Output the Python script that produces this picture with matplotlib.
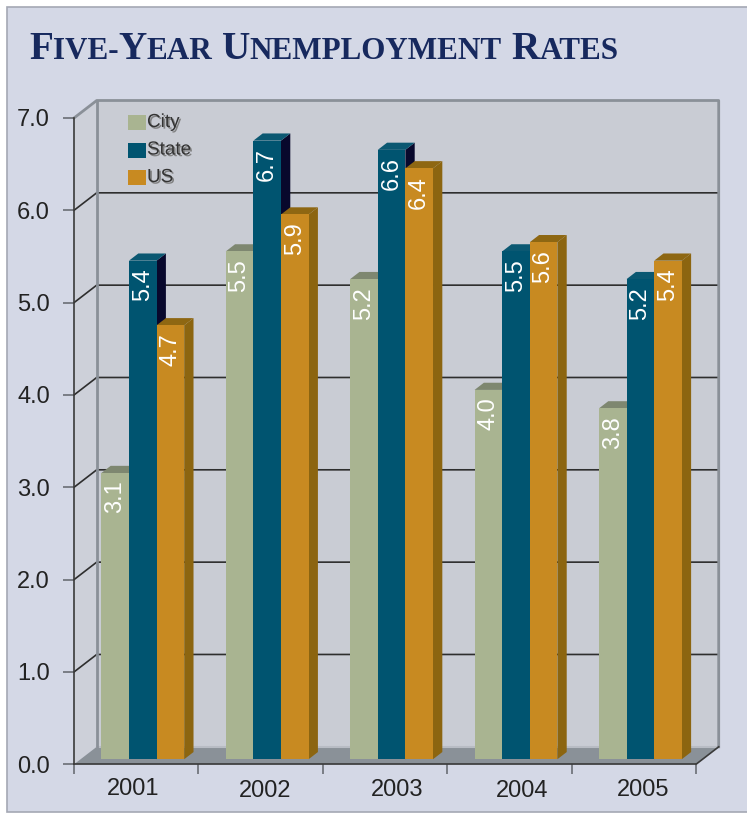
import matplotlib
matplotlib.use('Agg')
import matplotlib.pyplot as plt
import matplotlib.patheffects as pe
from matplotlib.patches import Polygon, Rectangle

# data
years = ['2001', '2002', '2003', '2004', '2005']
city = [3.1, 5.5, 5.2, 4.0, 3.8]
state = [5.4, 6.7, 6.6, 5.5, 5.2]
us = [4.7, 5.9, 6.4, 5.6, 5.4]
series_names = ['City', 'State', 'US']
yticks = [0, 1, 2, 3, 4, 5, 6, 7]

# colours : front / top / side face of each series
front_cols = ['#A9B491', '#005470', '#C88A21']
top_cols = ['#7E8770', '#0B5872', '#8E6712']
side_cols = ['#7E8770', '#08082C', '#8C6510']

NARROW = ['Liberation Sans Narrow', 'Liberation Sans', 'DejaVu Sans']
plt.rcParams['font.family'] = NARROW

W, H = 747, 814
fig = plt.figure(figsize=(W / 100, H / 100), dpi=100, facecolor='white')


def fx(px):
    return px / W


def fy(py):
    return 1 - py / H


# panel behind everything
fig.add_artist(Rectangle((fx(7), fy(812)), (760 - 7) / W, (812 - 7) / H,
                         transform=fig.transFigure, facecolor='#D4D8E6',
                         edgecolor='#A4A8B4', linewidth=1.2, zorder=-5))

# front plane of the box = the axes
ax = fig.add_axes([fx(74), fy(764.3), 622 / W, (764.3 - 118) / H])
ax.set_xlim(0, 5)
ax.set_ylim(0, 7)
ax.patch.set_visible(False)

ncat = len(years)
ymax = yticks[-1]
ddx = 22.7 / 124.4     # depth of the box in data units
ddy = 17.5 / 92.33
f0 = 0.29              # depth where the bar front sits
bd = 0.41              # bar depth as fraction of box depth
bw = 0.222             # bar width

# walls & floor
ax.add_patch(Polygon([(0, 0), (ddx, ddy), (ddx, ymax + ddy), (0, ymax)],
                     closed=True, facecolor='#CDD0D9', edgecolor='none',
                     clip_on=False, zorder=0.5))
ax.add_patch(Polygon([(ddx, ddy), (ncat + ddx, ddy), (ncat + ddx, ymax + ddy), (ddx, ymax + ddy)],
                     closed=True, facecolor='#C9CCD4', edgecolor='none',
                     clip_on=False, zorder=0.5))
ax.add_patch(Polygon([(0, 0), (ncat, 0), (ncat + ddx, ddy), (ddx, ddy)],
                     closed=True, facecolor='#8A9198', edgecolor='none',
                     clip_on=False, zorder=0.6))

# gridlines on the back & left wall
for v in yticks[1:-1]:
    ax.plot([0, ddx, ncat + ddx], [v, v + ddy, v + ddy], color='#2E2E2E',
            lw=1.2, clip_on=False, zorder=0.8)

# wall edges
edge = dict(color='#8A9098', lw=2, clip_on=False, zorder=0.9)
ax.plot([0, ddx, ncat + ddx, ncat + ddx], [ymax, ymax + ddy, ymax + ddy, ddy], **edge)
ax.plot([ddx, ddx], [ddy, ymax + ddy], **edge)
ax.plot([ddx, ncat + ddx], [ddy, ddy], color='#B8BCC4', lw=1.5, clip_on=False, zorder=0.7)
ax.plot([ncat, ncat + ddx], [0, ddy], color='#3A3A3A', lw=1.2, clip_on=False, zorder=0.9)

# bars
values = [city, state, us]
for i in range(ncat):
    left0 = i + 0.5 - 1.5 * bw + f0 * ddx
    y0 = f0 * ddy
    for j, vals in enumerate(values):
        v = vals[i]
        x = left0 + j * bw
        z = 2 + j * 0.1
        ax.add_patch(Polygon([(x + bw, y0), (x + bw + bd * ddx, y0 + bd * ddy),
                              (x + bw + bd * ddx, y0 + v + bd * ddy), (x + bw, y0 + v)],
                             closed=True, facecolor=side_cols[j], edgecolor='none',
                             clip_on=False, zorder=z))
        ax.add_patch(Polygon([(x, y0 + v), (x + bw, y0 + v),
                              (x + bw + bd * ddx, y0 + v + bd * ddy), (x + bd * ddx, y0 + v + bd * ddy)],
                             closed=True, facecolor=top_cols[j], edgecolor='none',
                             clip_on=False, zorder=z + 0.01))
        ax.bar(x, v, width=bw, bottom=y0, align='edge', color=front_cols[j],
               edgecolor='none', zorder=z + 0.02)
        ax.annotate(f'{v:.1f}', xy=(x + bw / 2, y0 + v), xytext=(0, -5.5),
                    textcoords='offset points', rotation=90, ha='center', va='top',
                    color='white', fontsize=17, zorder=z + 0.05)

# axes / ticks
for s in ['top', 'right']:
    ax.spines[s].set_visible(False)
for s in ['left', 'bottom']:
    ax.spines[s].set_color('#3A3A3A')
    ax.spines[s].set_linewidth(1.2)

ax.set_yticks(yticks)
ax.set_yticklabels([f'{v:.1f}' for v in yticks])
ax.tick_params(axis='y', length=8, width=1.2, color='#6A6E75', pad=9.4,
               labelsize=17, labelcolor='#222222')
ax.set_xticks(range(ncat + 1))
ax.set_xticklabels([])
ax.tick_params(axis='x', length=7.2, width=1.2, color='#6A6E75')

# year labels, slightly uneven like the original
nudge_x = [-2, 3, 9, 9, 7]
nudge_y = [0, -1.5, -0.7, -1.5, -0.7]
for i, yr in enumerate(years):
    ax.annotate(yr, xy=(i + 0.5, 0), xytext=(nudge_x[i], -17.5 + nudge_y[i]),
                textcoords='offset points', ha='center', va='center',
                fontsize=17, color='#222222')

# legend
shadow = [pe.SimplePatchShadow(offset=(1.2, -1.2), shadow_rgbFace='#7A7A7A', alpha=0.9), pe.Normal()]
for k, name in enumerate(series_names):
    top = 115 + k * 27.5
    fig.add_artist(Rectangle((fx(128), fy(top + 15)), 18 / W, 15 / H,
                             transform=fig.transFigure, facecolor=front_cols[k],
                             edgecolor='none', zorder=5))
    fig.text(fx(147), fy(top + 7.5), name, fontsize=13.6, color='#333333',
             ha='left', va='center', path_effects=shadow, zorder=5)

# title in small caps
renderer = fig.canvas.get_renderer()
pieces = [('F', True), ('IVE-', False), ('Y', True), ('EAR', False), (' ', None),
          ('U', True), ('NEMPLOYMENT', False), (' ', None), ('R', True), ('ATES', False)]
xcur = 29
for txt, big in pieces:
    if big is None:
        xcur += 9
        continue
    t = fig.text(fx(xcur), fy(59), txt, fontsize=28.2 if big else 22.4,
                 family=['Liberation Serif', 'DejaVu Serif'], fontweight='bold',
                 color='#17295E', ha='left', va='baseline')
    xcur += t.get_window_extent(renderer).width

fig.savefig('out.png', dpi=100, facecolor='white')
